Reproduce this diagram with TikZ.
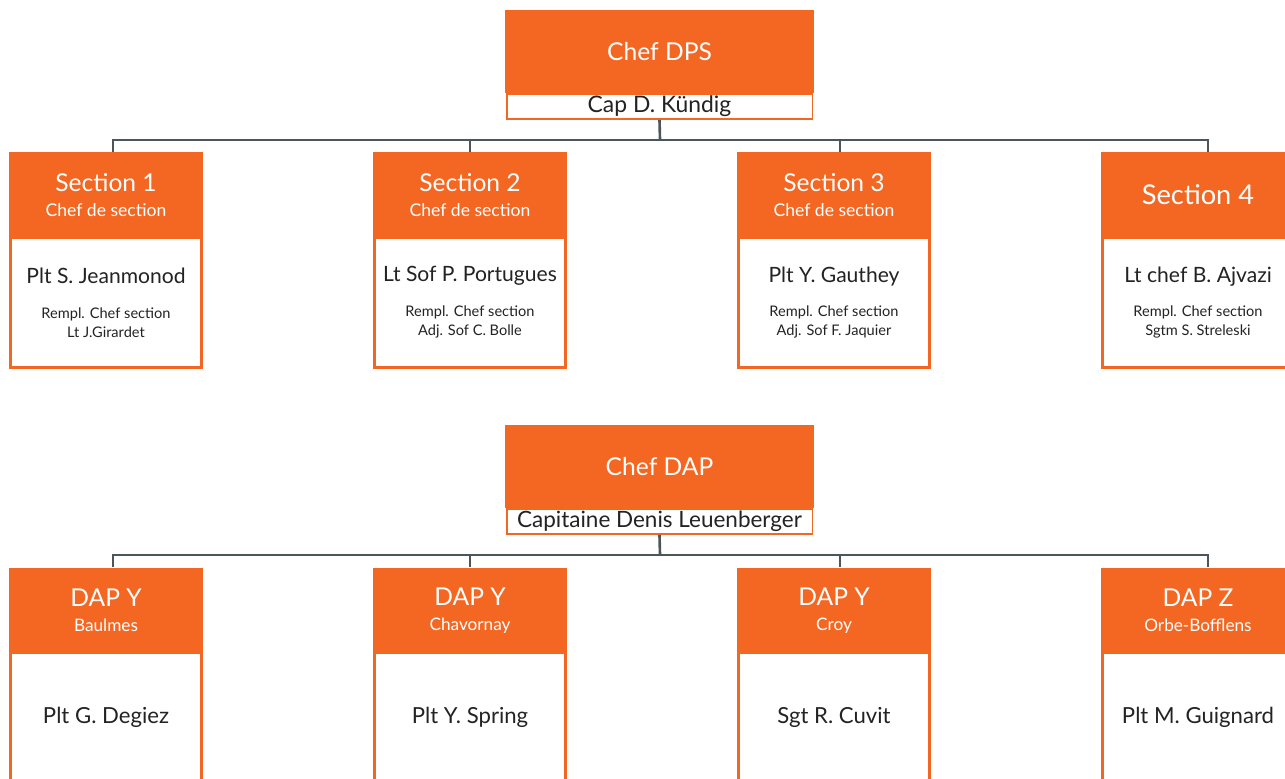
\documentclass[tikz,border=0pt]{standalone}
\usepackage{fontspec}
\setmainfont{Lato}

\definecolor{dpsorange}{RGB}{244,103,34}
\definecolor{linkgray}{RGB}{74,86,92}
\definecolor{textdark}{RGB}{35,35,35}

\newcommand{\namefont}{\fontsize{12}{14}\selectfont}
\newcommand{\dapfont}{\fontsize{12.6}{15}\selectfont}

\begin{document}
\begin{tikzpicture}[x=0.02cm, y=-0.02cm,
  chef/.style={rectangle, fill=dpsorange, text=white, minimum width=6.18cm, minimum height=1.66cm, inner sep=0pt, font=\fontsize{14}{17}\selectfont},
  chefname/.style={rectangle, draw=dpsorange, line width=1.1pt, fill=white, text=textdark, minimum width=6.12cm, minimum height=0.5cm, inner sep=0pt, font=\fontsize{13}{15}\selectfont},
  head/.style={rectangle, fill=dpsorange, text=white, minimum width=3.88cm, minimum height=1.72cm, inner sep=0pt, align=center, font=\fontsize{14}{14.5}\selectfont},
  body/.style={rectangle, draw=dpsorange, line width=1.5pt, fill=white, text=textdark, minimum width=3.83cm, minimum height=2.6cm, inner sep=0pt, align=center, font=\fontsize{8.3}{10.8}\selectfont},
  link/.style={draw=linkgray, line width=1.5pt}
]
\useasboundingbox (0,0) rectangle (1285,778);

% DPS
\node[chef] (dps) at (659.5,51.5) {Chef DPS};
\node[chefname] (kundig) at (659.5,106.5) {Cap D. Kündig};

% Sections
\node[body] (secbody1) at (106,302.5) {{\namefont Plt S. Jeanmonod}\\[9pt]Rempl. Chef section\\Lt J.Girardet};
\node[body] (secbody2) at (470,302.5) {{\namefont Lt Sof P. Portugues}\\[9pt]Rempl. Chef section\\Adj. Sof C. Bolle};
\node[body] (secbody3) at (834,302.5) {{\namefont Plt Y. Gauthey}\\[9pt]Rempl. Chef section\\Adj. Sof F. Jaquier};
\node[body] (secbody4) at (1198,302.5) {{\namefont Lt chef B. Ajvazi}\\[9pt]Rempl. Chef section\\Sgtm S. Streleski};
\node[head] (sechead1) at (106,195) {Section 1\\{\fontsize{10}{12}\selectfont Chef de section}};
\node[head] (sechead2) at (470,195) {Section 2\\{\fontsize{10}{12}\selectfont Chef de section}};
\node[head] (sechead3) at (834,195) {Section 3\\{\fontsize{10}{12}\selectfont Chef de section}};
\node[head, font=\fontsize{15.5}{18}\selectfont] (sechead4) at (1198,195) {Section 4};

% DAP
\node[chef] (dap) at (659.5,466.5) {Chef DAP};
\node[chefname, font=\fontsize{12.8}{15}\selectfont] (leuen) at (659.5,521.5) {Capitaine Denis Leuenberger};

\node[body] (dapbody1) at (106,717.5) {\dapfont Plt G. Degiez};
\node[body] (dapbody2) at (470,717.5) {\dapfont Plt Y. Spring};
\node[body] (dapbody3) at (834,717.5) {\dapfont Sgt R. Cuvit};
\node[body] (dapbody4) at (1198,717.5) {\dapfont Plt M. Guignard};
\node[head] (daphead1) at (106,610.5) {DAP Y\\{\fontsize{9.8}{11}\selectfont Baulmes}};
\node[head] (daphead2) at (470,610.5) {DAP Y\\{\fontsize{9.8}{11}\selectfont Chavornay}};
\node[head] (daphead3) at (834,610.5) {DAP Y\\{\fontsize{9.8}{11}\selectfont Croy}};
\node[head] (daphead4) at (1198,610.5) {DAP Z\\{\fontsize{9.8}{11}\selectfont Orbe-Bofflens}};

% Links
\coordinate (dpsbar) at (660,140);
\coordinate (dapbar) at (660,555);
\draw[link] (kundig.south) -- (dpsbar);
\draw[link] (leuen.south) -- (dapbar);
\foreach \n/\dx in {1/7,2/0,3/6,4/10}{
  \draw[link] ([xshift=\dx*0.02cm]sechead\n.north) |- (dpsbar);
  \draw[link] ([xshift=\dx*0.02cm]daphead\n.north) |- (dapbar);
}
\end{tikzpicture}
\end{document}
